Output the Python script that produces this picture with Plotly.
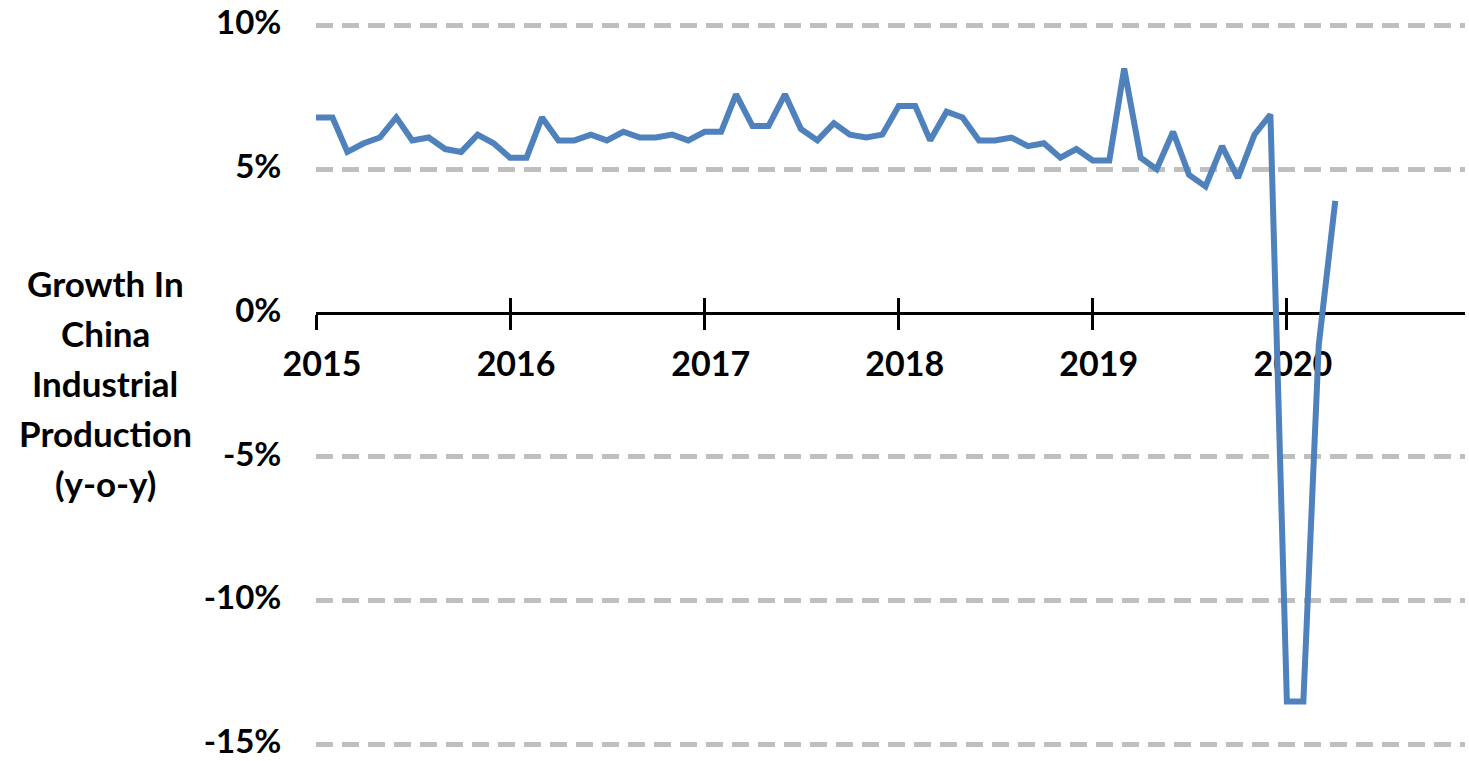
import plotly.graph_objects as go

# Monthly y-o-y growth in China industrial production (%), Jan 2015 - Apr 2020
months = [f"{y}-{m:02d}-01" for y in range(2015, 2021) for m in range(1, 13)][:64]
growth = [
    6.8, 6.8, 5.6, 5.9, 6.1, 6.8, 6.0, 6.1, 5.7, 5.6, 6.2, 5.9,   # 2015
    5.4, 5.4, 6.8, 6.0, 6.0, 6.2, 6.0, 6.3, 6.1, 6.1, 6.2, 6.0,   # 2016
    6.3, 6.3, 7.6, 6.5, 6.5, 7.6, 6.4, 6.0, 6.6, 6.2, 6.1, 6.2,   # 2017
    7.2, 7.2, 6.0, 7.0, 6.8, 6.0, 6.0, 6.1, 5.8, 5.9, 5.4, 5.7,   # 2018
    5.3, 5.3, 8.5, 5.4, 5.0, 6.3, 4.8, 4.4, 5.8, 4.7, 6.2, 6.9,   # 2019
    -13.5, -13.5, -1.1, 3.9,                                      # 2020
]
year_ticks = ["2015-01-01", "2016-01-01", "2017-01-01", "2018-01-01", "2019-01-01", "2020-01-01"]
year_labels = ["2015", "2016", "2017", "2018", "2019", "2020"]
y_ticks = [-15, -10, -5, 0, 5, 10]
y_labels = ["-15%", "-10%", "-5%", "0%", "5%", "10%"]
title_lines = ["Growth In", "China", "Industrial", "Production", "(y-o-y)"]

FAMILY = "Lato, Calibri, Open Sans, sans-serif"
FONT = dict(family=FAMILY, size=34, color="black", weight="bold")
YFONT = dict(family=FAMILY, size=33, color="black", weight="bold")
TITLE_FONT = dict(family=FAMILY, size=35, color="black", weight="bold")
x_range = ["2015-01-01", "2020-12-01"]
y_range = [-15.15, 10.15]
zero_pos = (0 - y_range[0]) / (y_range[1] - y_range[0])

fig = go.Figure()
fig.add_trace(go.Scatter(
    x=months, y=growth, mode="lines",
    line=dict(color="#4F81BD", width=6),
    showlegend=False, hoverinfo="skip",
))
# invisible trace for second x axis (ticks crossing the axis line)
fig.add_trace(go.Scatter(x=x_range, y=[None, None], xaxis="x2", showlegend=False, hoverinfo="skip"))

fig.update_layout(
    width=1469, height=761,
    margin=dict(l=316, r=4, t=20.7, b=11.7, autoexpand=False),
    paper_bgcolor="white", plot_bgcolor="white",
    font=FONT,
    xaxis=dict(
        type="date", range=x_range,
        tickvals=year_ticks, ticktext=year_labels,
        anchor="free", position=zero_pos, automargin=False,
        showline=True, linecolor="black", linewidth=3,
        ticks="outside", ticklen=15, tickwidth=3, tickcolor="black",
        showgrid=False, zeroline=False, layer="below traces",
        tickfont=FONT, ticklabelstandoff=5, ticklabelshift=6,
        ticklabeloverflow="allow",
    ),
    xaxis2=dict(
        type="date", range=x_range, overlaying="x",
        tickvals=year_ticks, anchor="free", position=zero_pos, automargin=False,
        ticks="inside", ticklen=15, tickwidth=3, tickcolor="black",
        showticklabels=False, showgrid=False, zeroline=False, showline=False,
        layer="below traces",
    ),
    yaxis=dict(
        range=y_range, tickvals=y_ticks, ticktext=y_labels, automargin=False,
        showgrid=True, gridcolor="#BFBFBF", gridwidth=5, griddash="17px,9px",
        zeroline=True, zerolinecolor="black", zerolinewidth=3,
        showline=False, ticks="outside", ticklen=27, tickcolor="rgba(0,0,0,0)",
        tickfont=YFONT, layer="below traces", ticklabeloverflow="allow",
        ticklabelshift=-3,
    ),
)

title_y_px = [283, 333, 383, 433, 483]
for line, ypx in zip(title_lines, title_y_px):
    fig.add_annotation(
        text=line, xref="paper", yref="paper",
        x=(105 - 316) / 1149, y=1 - (ypx - 20.7) / 728.6,
        xanchor="center", yanchor="middle", showarrow=False, font=TITLE_FONT,
    )

fig.write_html(
    "out.html",
    config={"displayModeBar": False},
    post_script="document.body.style.margin='0';",
)
